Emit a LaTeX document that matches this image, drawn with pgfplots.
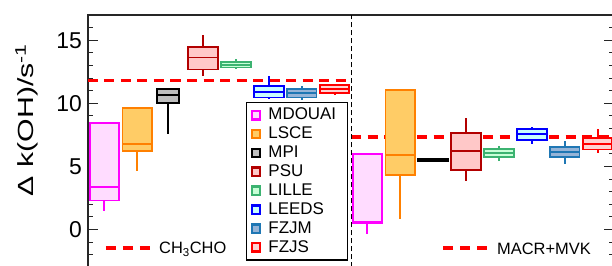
\documentclass[border=0pt]{standalone}
\usepackage{pgfplots}
\pgfplotsset{compat=1.18}
\usepgfplotslibrary{statistics}
\usepackage{fontspec}
\setmainfont{Liberation Sans}
\newfontfamily\ylabfont{Liberation Sans}[FakeStretch=1.38]
\definecolor{mdB}{RGB}{255,0,255}\definecolor{mdF}{RGB}{255,220,255}
\definecolor{lsB}{RGB}{255,128,0}\definecolor{lsF}{RGB}{255,204,102}
\definecolor{mpB}{RGB}{0,0,0}\definecolor{mpF}{RGB}{190,190,190}
\definecolor{psB}{RGB}{178,0,0}\definecolor{psF}{RGB}{255,200,200}
\definecolor{liB}{RGB}{60,179,113}\definecolor{liF}{RGB}{200,255,215}
\definecolor{leB}{RGB}{0,0,255}\definecolor{leF}{RGB}{200,255,255}
\definecolor{fmB}{RGB}{31,119,180}\definecolor{fmF}{RGB}{150,180,215}
\definecolor{fsB}{RGB}{255,0,0}\definecolor{fsF}{RGB}{255,210,210}
% border, fill, position, extend, lw, lq, med, uq, uw
\newcommand{\bx}[9]{\addplot[forget plot, draw=#1, fill=#2, line width=1.9bp,
  boxplot prepared={draw position=#3, box extend=#4, whisker extend=0,
  lower whisker=#5, lower quartile=#6, median=#7, upper quartile=#8, upper whisker=#9}] coordinates {};}
\newcommand{\lgimg}[2]{\addlegendimage{draw=#1, fill=#2, line width=2.4bp,
  legend image code/.code={\draw (0bp,-4.2bp) rectangle (8.4bp,4.2bp);}}}
\begin{document}
\begin{tikzpicture}
\begin{axis}[
  scale only axis, width=526bp, height=252.4bp,
  xmin=-0.5, xmax=15.5, ymin=-3, ymax=17,
  boxplot/draw direction=y,
  axis line style={line width=1.2bp, black!85},
  xtick=\empty,
  minor xtick={0.642857,1.785714,2.928571,4.071429,5.214286,6.357143,7.5,8.642857,9.785714,10.928571,12.071429,13.214286,14.357143},
  ytick={0,5,10,15},
  minor ytick={-3,-2,...,17},
  tick align=inside,
  major tick length=10bp, minor tick length=5bp,
  every tick/.style={line width=1bp, black!85},
  /pgf/number format/assume math mode=true,
  yticklabel style={font=\fontsize{23}{23}\selectfont, inner xsep=0bp, xshift=-6bp},
  ylabel={\ylabfont\fontsize{22}{22}\selectfont Δ k(OH)/s\textsuperscript{-1}},
  ylabel style={at={(axis description cs:-0.1165,0.584)}, anchor=center},
  legend cell align=left,
  legend style={at={(rel axis cs:0.3004,0.6553)}, anchor=north west, draw=black, line width=1.3bp,
    font=\fontsize{17}{18}\selectfont, inner xsep=4bp, inner ysep=3bp, row sep=0pt,
    nodes={text height=12bp, text depth=2.4bp, inner ysep=2.25bp, inner xsep=7bp}},
]
% reference lines
\addplot[forget plot, red, line width=3.5bp, dash pattern=on 10bp off 6.5bp] coordinates {(-0.5,11.8) (7.5,11.8)};
\addplot[forget plot, red, line width=3.5bp, dash pattern=on 10bp off 6.5bp] coordinates {(7.5,7.34) (15.5,7.34)};
\addplot[forget plot, black, line width=0.9bp, dash pattern=on 5bp off 3bp] coordinates {(7.5,-3) (7.5,17)};
% CH3CHO
\bx{mdB}{mdF}{0}{0.9}{1.47}{2.30}{3.38}{8.47}{8.47}
\bx{lsB}{lsF}{1}{0.9}{4.64}{6.20}{6.76}{9.64}{9.64}
\bx{mpB}{mpF}{1.93}{0.66}{7.6}{10.03}{10.64}{11.17}{11.17}
\bx{psB}{psF}{3}{0.9}{12.2}{12.68}{13.63}{14.47}{15.4}
\bx{liB}{liF}{4}{0.9}{12.7}{12.84}{13.04}{13.26}{13.55}
\bx{leB}{leF}{5}{0.9}{10.35}{10.46}{10.88}{11.38}{12.2}
\bx{fmB}{fmF}{6}{0.9}{10.3}{10.46}{10.83}{11.17}{11.35}
\bx{fsB}{fsF}{7}{0.9}{10.64}{10.83}{11.12}{11.43}{11.55}
% MACR+MVK
\bx{mdB}{mdF}{8}{0.9}{-0.32}{0.52}{0.6}{5.99}{5.99}
\bx{lsB}{lsF}{9}{0.9}{0.87}{4.3}{5.94}{11.09}{11.09}
\bx{mpB}{mpF}{10}{0.9}{5.36}{5.45}{5.55}{5.62}{5.65}
\bx{psB}{psF}{11}{0.9}{3.83}{4.75}{6.23}{7.63}{8.8}
\bx{liB}{liF}{12}{0.9}{5.41}{5.75}{6.07}{6.39}{6.62}
\bx{leB}{leF}{13}{0.9}{6.81}{7.13}{7.55}{8.0}{8.13}
\bx{fmB}{fmF}{14}{0.9}{5.23}{5.75}{6.12}{6.52}{7.02}
\bx{fsB}{fsF}{15}{0.9}{6.07}{6.34}{6.81}{7.26}{8.0}
% legend
\lgimg{mdB}{mdF}\addlegendentry{MDOUAI}
\lgimg{lsB}{lsF}\addlegendentry{LSCE}
\lgimg{mpB}{mpF}\addlegendentry{MPI}
\lgimg{psB}{psF}\addlegendentry{PSU}
\lgimg{liB}{liF}\addlegendentry{LILLE}
\lgimg{leB}{leF}\addlegendentry{LEEDS}
\lgimg{fmB}{fmF}\addlegendentry{FZJM}
\lgimg{fsB}{fsF}\addlegendentry{FZJS}
% line legends
\draw[red, line width=3.5bp, dash pattern=on 10bp off 7bp] (rel axis cs:0.0342,0.0769) -- (rel axis cs:0.1198,0.0769);
\node[anchor=base west, inner sep=0pt, font=\fontsize{16.5}{18}\selectfont] at (rel axis cs:0.135,0.0531) {CH\textsubscript{3}CHO};
\draw[red, line width=3.5bp, dash pattern=on 10bp off 7bp] (rel axis cs:0.675,0.0769) -- (rel axis cs:0.760,0.0769);
\node[anchor=base west, inner sep=0pt, font=\fontsize{16.5}{18}\selectfont] at (rel axis cs:0.7776,0.052) {MACR+MVK};
\end{axis}
\pgfresetboundingbox
\path[use as bounding box] ([xshift=-88bp,yshift=15bp]current axis.north west) rectangle ([xshift=-2bp,yshift=1.4bp]current axis.south east);
\end{tikzpicture}
\end{document}
